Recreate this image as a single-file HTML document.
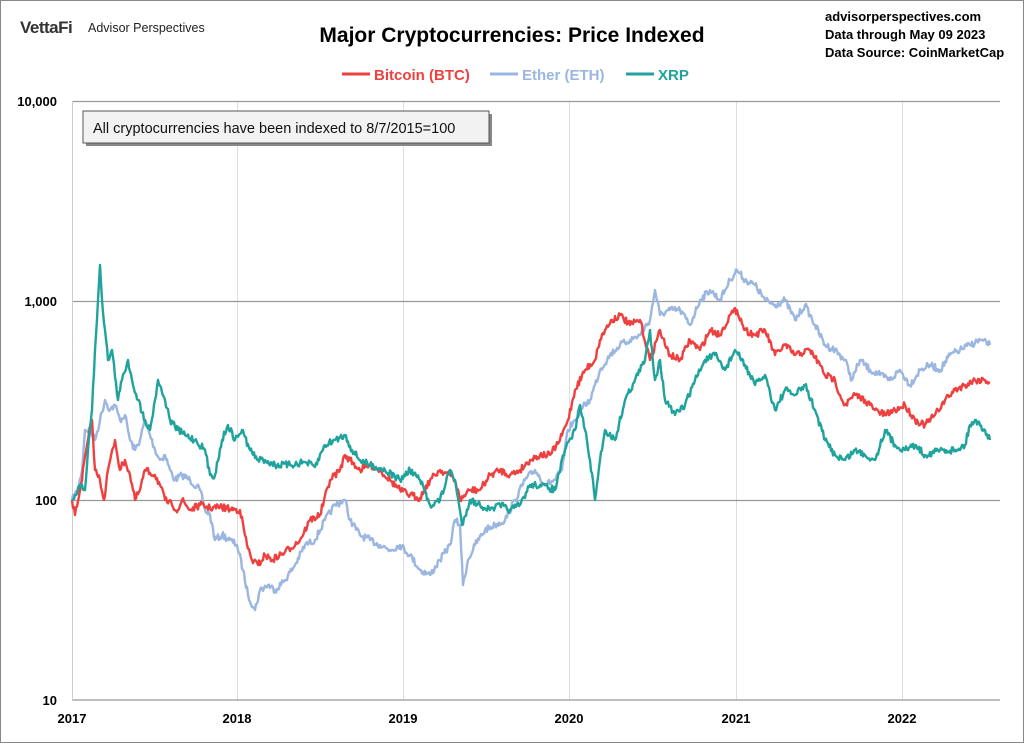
<!DOCTYPE html>
<html><head><meta charset="utf-8"><style>
body{margin:0;background:#fff}
svg{display:block;font-family:"Liberation Sans",Arial,sans-serif}
</style></head><body>
<svg id="s" width="1024" height="743" viewBox="0 0 1024 743">
<rect x="0.5" y="0.5" width="1023" height="742" fill="#fff" stroke="#888"/>
<text x="20" y="33" font-size="17" font-weight="bold" fill="#333" letter-spacing="-0.5">VettaFi</text>
<text x="88" y="32" font-size="12.5" fill="#222">Advisor Perspectives</text>
<text x="512" y="42" font-size="21" font-weight="bold" text-anchor="middle" fill="#000">Major Cryptocurrencies: Price Indexed</text>
<text x="825" y="21" font-size="13" font-weight="bold">advisorperspectives.com</text>
<text x="825" y="39" font-size="13" font-weight="bold">Data through May 09 2023</text>
<text x="825" y="57" font-size="13" font-weight="bold">Data Source: CoinMarketCap</text>
<line x1="342" y1="74" x2="370" y2="74" stroke="#ef4040" stroke-width="3"/>
<text x="374" y="80" font-size="15" font-weight="bold" fill="#ef4040">Bitcoin (BTC)</text>
<line x1="490" y1="74" x2="518" y2="74" stroke="#9bb6e0" stroke-width="3"/>
<text x="522" y="80" font-size="15" font-weight="bold" fill="#9bb6e0">Ether (ETH)</text>
<line x1="626" y1="74" x2="654" y2="74" stroke="#1fa39c" stroke-width="3"/>
<text x="658" y="80" font-size="15" font-weight="bold" fill="#1fa39c">XRP</text>
<g stroke="#ddd" stroke-width="1">
<line x1="237.5" y1="101" x2="237.5" y2="700"/><line x1="403.5" y1="101" x2="403.5" y2="700"/>
<line x1="569.5" y1="101" x2="569.5" y2="700"/><line x1="736.5" y1="101" x2="736.5" y2="700"/>
<line x1="902.5" y1="101" x2="902.5" y2="700"/>
</g>
<g stroke="#999" stroke-width="1.3">
<line x1="72" y1="101.5" x2="1000" y2="101.5"/><line x1="72" y1="301.5" x2="1000" y2="301.5"/>
<line x1="72" y1="500.5" x2="1000" y2="500.5"/><line x1="72" y1="700" x2="1000" y2="700"/>
</g>
<line x1="72.5" y1="101" x2="72.5" y2="700" stroke="#ccc"/>
<g font-size="13" font-weight="bold" text-anchor="end">
<text x="57" y="106">10,000</text><text x="57" y="306">1,000</text><text x="57" y="505">100</text><text x="57" y="705">10</text>
</g>
<g font-size="13" font-weight="bold" text-anchor="middle">
<text x="72" y="723">2017</text><text x="237" y="723">2018</text><text x="403" y="723">2019</text>
<text x="569" y="723">2020</text><text x="736" y="723">2021</text><text x="902" y="723">2022</text>
</g>
<rect x="86" y="114" width="406" height="32" fill="#888"/>
<rect x="83" y="111" width="406" height="32" fill="#f2f2f2" stroke="#555"/>
<text x="93" y="133" font-size="14.5" fill="#111">All cryptocurrencies have been indexed to 8/7/2015=100</text>
<g id="lines" fill="none" stroke-width="2.4" stroke-linejoin="round"></g>
</svg>
<script>
var eth=[72,500,78,490,82,470,85,430,90,430,95,440,100,420,105,400,110,410,115,405,120,420,125,415,130,440,135,450,140,440,145,420,150,435,155,450,160,460,165,455,170,470,175,480,182,475,190,480,200,490,205,510,210,515,215,540,222,535,230,540,237,545,243,570,248,595,255,610,260,590,268,585,275,590,285,580,295,565,305,545,315,540,325,520,335,505,345,500,350,520,360,535,370,540,380,545,390,550,400,545,410,555,420,570,430,575,440,560,450,545,455,520,460,525,463,585,468,560,475,545,485,530,495,525,505,520,515,500,525,480,535,470,545,485,555,480,562,470,568,430,575,420,580,410,590,400,595,385,600,370,610,355,620,345,630,340,640,335,650,320,655,290,660,315,670,310,680,310,690,325,700,300,710,290,720,300,730,280,737,270,745,280,755,285,765,300,775,305,785,300,795,320,805,305,815,325,825,345,835,350,845,360,852,380,860,360,870,370,880,375,890,380,900,370,910,385,920,370,930,365,940,370,950,355,960,350,970,345,980,340,990,345];
var btc=[72,500,75,515,80,490,88,440,92,420,95,470,100,480,104,500,108,470,115,440,120,470,125,460,130,475,135,500,140,490,145,470,155,475,160,485,165,500,172,505,178,510,182,500,190,510,200,505,210,508,220,507,230,509,240,510,247,545,252,560,258,565,265,555,272,560,285,552,300,540,310,520,320,515,330,480,340,470,345,455,350,460,360,470,370,465,380,470,390,480,400,490,410,495,420,498,430,480,440,470,450,475,455,480,460,500,470,490,480,490,490,475,500,470,510,475,520,470,530,460,540,455,550,455,560,440,568,420,575,390,585,370,595,360,600,340,605,330,612,320,620,315,630,325,640,320,650,360,660,330,665,345,670,355,680,360,690,340,700,350,710,330,720,335,730,315,737,310,745,330,755,335,765,330,775,355,785,345,795,355,810,350,820,365,825,375,835,380,840,395,845,405,855,395,865,400,875,410,885,415,895,410,905,405,915,420,925,425,935,415,945,400,955,390,965,385,975,380,985,380,990,382];
var xrp=[72,500,76,495,80,485,85,490,88,450,92,410,95,350,98,300,100,265,102,300,105,330,108,360,112,350,118,400,122,380,128,360,132,380,138,400,145,420,150,430,155,400,158,380,165,400,170,420,178,430,185,435,195,440,205,450,210,475,215,475,222,440,228,425,235,440,242,430,250,450,258,460,265,460,275,465,290,465,305,462,315,467,325,445,335,440,345,435,352,450,360,460,370,465,385,470,400,480,410,470,420,480,430,505,440,500,450,470,455,480,462,525,470,500,480,505,490,510,500,505,510,510,520,505,530,485,540,485,555,490,565,450,575,430,580,405,585,430,590,460,595,500,600,460,605,430,615,440,625,400,635,380,645,360,650,330,655,380,660,360,665,400,675,415,685,405,695,380,705,360,715,355,725,370,735,350,745,365,755,385,765,375,775,410,785,390,795,395,805,385,815,410,825,440,835,455,845,460,855,450,865,455,875,460,885,430,895,445,905,450,915,445,925,455,940,450,955,450,965,445,970,425,975,420,985,430,990,440];
var seed=7;function r(){seed=(seed*16807)%2147483647;return seed/2147483647-0.5;}
function mk(a,c){var p=[];for(var i=0;i<a.length-2;i+=2){var x0=a[i],y0=a[i+1],x1=a[i+2],y1=a[i+3];for(var x=x0;x<x1;x++){var t=(x-x0)/(x1-x0);var y=y0+(y1-y0)*t+(x==x0?0:r()*7);p.push(x+","+y.toFixed(1));}}p.push(a[a.length-2]+","+a[a.length-1]);
var e=document.createElementNS("http://www.w3.org/2000/svg","polyline");e.setAttribute("points",p.join(" "));e.setAttribute("stroke",c);document.getElementById("lines").appendChild(e);}
mk(eth,"#9bb6e0");mk(btc,"#ef4040");mk(xrp,"#1fa39c");
</script>
</body></html>
